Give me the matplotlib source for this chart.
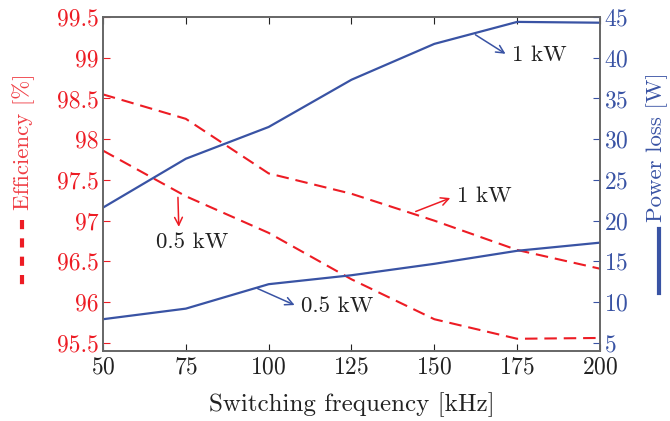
import matplotlib
matplotlib.use("Agg")
import matplotlib.pyplot as plt
from matplotlib.lines import Line2D

plt.rcParams['font.family'] = 'serif'
plt.rcParams['font.serif'] = ['cmr10']
plt.rcParams['mathtext.fontset'] = 'cm'
plt.rcParams['axes.formatter.use_mathtext'] = True

RED = "#ED1C24"
BLUE = "#3953A4"

# data
freq = [50, 75, 100, 125, 150, 175, 200]
eff_1kw = [98.55, 98.25, 97.58, 97.33, 97.00, 96.64, 96.41]
eff_05kw = [97.86, 97.30, 96.85, 96.28, 95.79, 95.55, 95.56]
loss_1kw = [21.6, 27.6, 31.5, 37.3, 41.7, 44.4, 44.3]
loss_05kw = [7.9, 9.2, 12.2, 13.3, 14.7, 16.3, 17.3]

fig = plt.figure(figsize=(6.7, 4.21), dpi=100)
ax = fig.add_axes([0.1537, 0.1663, 0.7418, 0.7933])
ax2 = ax.twinx()

dash = (6, 3.3)
ax.plot(freq, eff_1kw, color=RED, lw=1.5, dashes=dash)
ax.plot(freq, eff_05kw, color=RED, lw=1.5, dashes=dash)
ax2.plot(freq, loss_1kw, color=BLUE, lw=1.6)
ax2.plot(freq, loss_05kw, color=BLUE, lw=1.6)

ax.set_xlim(50, 200)
ax.set_ylim(95.4, 99.5)
ax2.set_ylim(4, 45)
ax.set_xticks(freq)
ax.set_yticks([95.5, 96, 96.5, 97, 97.5, 98, 98.5, 99, 99.5])
ax.set_yticklabels(["95.5", "96", "96.5", "97", "97.5", "98", "98.5", "99", "99.5"])
ax2.set_yticks([5, 10, 15, 20, 25, 30, 35, 40, 45])

TS = 17
ax.tick_params(axis='x', direction='in', top=True, labelsize=TS, colors='#222222', length=5, pad=4)
ax.tick_params(axis='y', direction='in', labelsize=TS, colors=RED, length=5, pad=3)
ax2.tick_params(axis='y', direction='in', labelsize=TS, colors=BLUE, length=5, pad=3)
for a in (ax, ax2):
    for s in a.spines.values():
        s.set_color('#666666')
        s.set_linewidth(1.2)

ax.set_xlabel("Switching frequency [kHz]", fontsize=18, color='#222222')
ax.xaxis.set_label_coords(0.5, -0.125)

# annotations
AS = 16.5
arw_r = dict(arrowstyle='->', color=RED, lw=1.1, mutation_scale=14)
arw_b = dict(arrowstyle='->', color=BLUE, lw=1.1, mutation_scale=14)
ax.annotate("", xy=(172.2, 99.03), xytext=(161.7, 99.30), arrowprops=arw_b)
ax.text(173.3, 99.03, "1 kW", fontsize=AS, color='#222222', ha='left', va='center')
ax.annotate("", xy=(155.6, 97.29), xytext=(143.6, 97.10), arrowprops=arw_r)
ax.text(156.8, 97.30, "1 kW", fontsize=AS, color='#222222', ha='left', va='center')
ax.annotate("", xy=(72.9, 96.89), xytext=(72.6, 97.32), arrowprops=arw_r)
ax.text(76.9, 96.74, "0.5 kW", fontsize=AS, color='#222222', ha='center', va='center')
ax.annotate("", xy=(108.6, 95.95), xytext=(95.9, 96.18), arrowprops=arw_b)
ax.text(109.8, 95.95, "0.5 kW", fontsize=AS, color='#222222', ha='left', va='center')

# axis titles with line-style keys
fig.text(24 / 670, 1 - 142 / 421, "Efficiency [%]", rotation=90, color=RED,
         fontsize=16.5, ha='center', va='center', alpha=0.85)
fig.add_artist(Line2D([22 / 670, 22 / 670], [1 - 220 / 421, 1 - 285 / 421],
                      color=RED, lw=3, dashes=(2.2, 2.2), transform=fig.transFigure))
fig.text(657 / 670, 1 - 147 / 421, "Power loss [W]", rotation=90, color=BLUE,
         fontsize=16.5, ha='center', va='center')
fig.add_artist(Line2D([659 / 670, 659 / 670], [1 - 229 / 421, 1 - 293 / 421],
                      color=BLUE, lw=3, transform=fig.transFigure))

fig.savefig("out.png", dpi=100)
